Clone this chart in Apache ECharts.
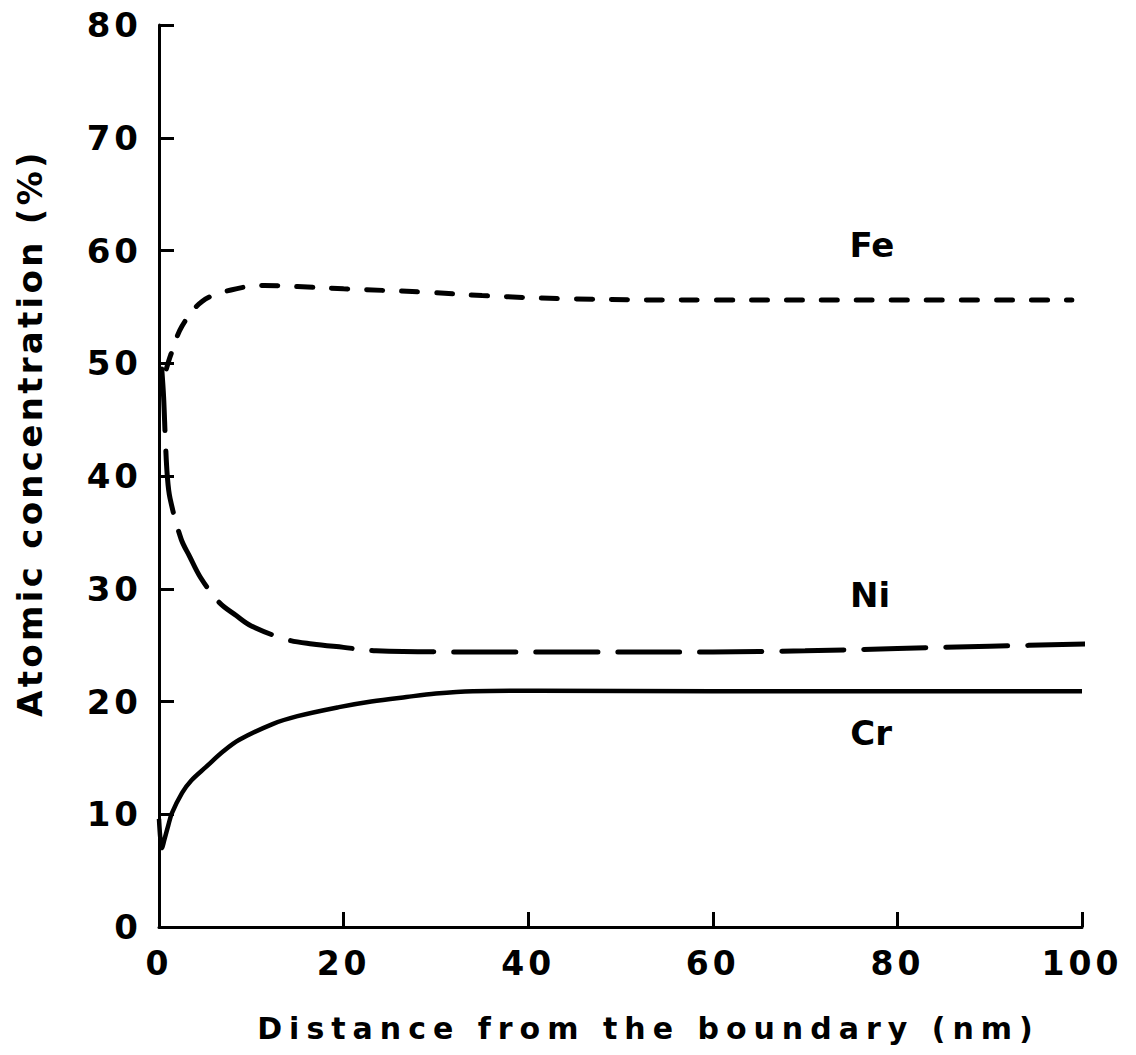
<!DOCTYPE html>
<html>
<head>
<meta charset="utf-8">
<script src="https://cdn.jsdelivr.net/npm/echarts@6/dist/echarts.min.js"></script>
<style>
  html, body { margin: 0; padding: 0; background: #fff; }
  #chart { width: 1136px; height: 1055px; }
</style>
</head>
<body>
<div id="chart"></div>
<script>
// Depth profiles across the boundary: distance (nm) vs atomic concentration (%)
const feX = [0.8, 1.3, 2.5, 4.7, 7.8, 11.4, 15, 20, 29, 35, 45, 60, 80, 98.9];
const feY = [49.5, 50.8, 53.3, 55.5, 56.5, 56.9, 56.8, 56.6, 56.3, 56.0, 55.7, 55.6, 55.6, 55.6];

const niX = [0.3, 0.5, 0.7, 0.9, 1.2, 2.4, 3.3, 4.5, 6.5, 8.4, 10, 13.8, 16.6, 20, 23.5, 32.5, 41, 60, 70, 80, 90, 100.8];
const niY = [49.5, 47, 43, 40, 38, 34.4, 32.9, 31, 28.8, 27.6, 26.7, 25.5, 25.1, 24.8, 24.5, 24.4, 24.4, 24.4, 24.5, 24.7, 24.9, 25.1];

const crX = [0, 0.15, 0.3, 0.6, 1.0, 1.4, 2.5, 3.5, 5.1, 7, 8.7, 12.3, 15, 19.5, 23, 26.8, 30, 34, 41, 60, 80, 100];
const crY = [9.6, 7.8, 7.0, 7.8, 9.0, 10.1, 11.9, 13.0, 14.2, 15.6, 16.6, 18.0, 18.7, 19.5, 20.0, 20.4, 20.7, 20.9, 20.95, 20.9, 20.9, 20.9];

// Element labels and where they sit (data coordinates)
const elementNames = ['Fe', 'Ni', 'Cr'];
const elementLabelX = [77.3, 77.1, 77.2];
const elementLabelY = [60.4, 29.4, 17.2];

const xTicks = [0, 20, 40, 60, 80, 100];
const yTicks = [0, 10, 20, 30, 40, 50, 60, 70, 80];

const xTitle = 'Distance from the boundary (nm)';
const yTitle = 'Atomic concentration (%)';

const FONT = 'DejaVu Sans';
const INK = '#000';

const pairs = (xs, ys) => xs.map((x, i) => [x, ys[i]]);

const chart = echarts.init(document.getElementById('chart'), null, { renderer: 'svg' });

const lineBase = {
  type: 'line',
  showSymbol: false,
  symbol: 'none',
  smooth: 0.35,
  clip: false,
  silent: true
};

chart.setOption({
  animation: false,
  backgroundColor: '#fff',
  grid: { left: 159, right: 54, top: 25, bottom: 128, containLabel: false },
  xAxis: {
    type: 'value',
    min: 0, max: 100, interval: 20,
    name: xTitle,
    nameLocation: 'middle',
    nameGap: 86,
    nameTextStyle: { fontFamily: FONT, fontWeight: 'bold', fontSize: 30, color: INK, padding: [0, 0, 0, 56] },
    axisLine: { show: true, lineStyle: { color: INK, width: 3 } },
    axisTick: { show: true, inside: true, length: 15, lineStyle: { color: INK, width: 3 } },
    axisLabel: {
      margin: 20, fontFamily: FONT, fontWeight: 'bold', fontSize: 33, color: INK,
      formatter: v => (xTicks.includes(v) ? String(v) : '')
    },
    splitLine: { show: false }
  },
  yAxis: {
    type: 'value',
    min: 0, max: 80, interval: 10,
    name: yTitle,
    nameLocation: 'middle',
    nameGap: 112,
    nameTextStyle: { fontFamily: FONT, fontWeight: 'bold', fontSize: 34, color: INK, padding: [0, 0, 0, 86] },
    axisLine: { show: true, lineStyle: { color: INK, width: 3 } },
    axisTick: { show: true, inside: true, length: 15, lineStyle: { color: INK, width: 3 } },
    axisLabel: {
      margin: 17, fontFamily: FONT, fontWeight: 'bold', fontSize: 34, color: INK,
      formatter: v => (yTicks.includes(v) ? String(v) : '')
    },
    splitLine: { show: false }
  },
  series: [
    Object.assign({}, lineBase, {
      name: 'Fe',
      data: pairs(feX, feY),
      lineStyle: { color: INK, width: 5, type: [16, 19], cap: 'round' }
    }),
    Object.assign({}, lineBase, {
      name: 'Ni',
      data: pairs(niX, niY),
      lineStyle: { color: INK, width: 5, type: [62, 20], cap: 'round' }
    }),
    Object.assign({}, lineBase, {
      name: 'Cr',
      data: pairs(crX, crY),
      lineStyle: { color: INK, width: 4.5, type: 'solid' }
    }),
    {
      type: 'scatter',
      name: 'labels',
      silent: true,
      symbolSize: 1,
      itemStyle: { color: 'rgba(0,0,0,0)', opacity: 1 },
      data: elementNames.map((n, i) => ({ name: n, value: [elementLabelX[i], elementLabelY[i]] })),
      label: {
        show: true,
        position: [0, 0],
        align: 'center',
        verticalAlign: 'middle',
        formatter: p => p.name,
        fontFamily: FONT, fontWeight: 'bold', fontSize: 34, color: INK
      }
    }
  ]
});

// Spread the letters like the typewriter-style lettering of the figure
const tracking = {};
tracking[xTitle] = 7;
tracking[yTitle] = 3.3;
xTicks.concat(yTicks).forEach(v => { tracking[String(v)] = 4; });
function applyTracking() {
  document.querySelectorAll('#chart text').forEach(t => {
    const s = tracking[t.textContent];
    if (s != null) t.style.letterSpacing = s + 'px';
  });
}
applyTracking();
chart.on('finished', applyTracking);
</script>
</body>
</html>
